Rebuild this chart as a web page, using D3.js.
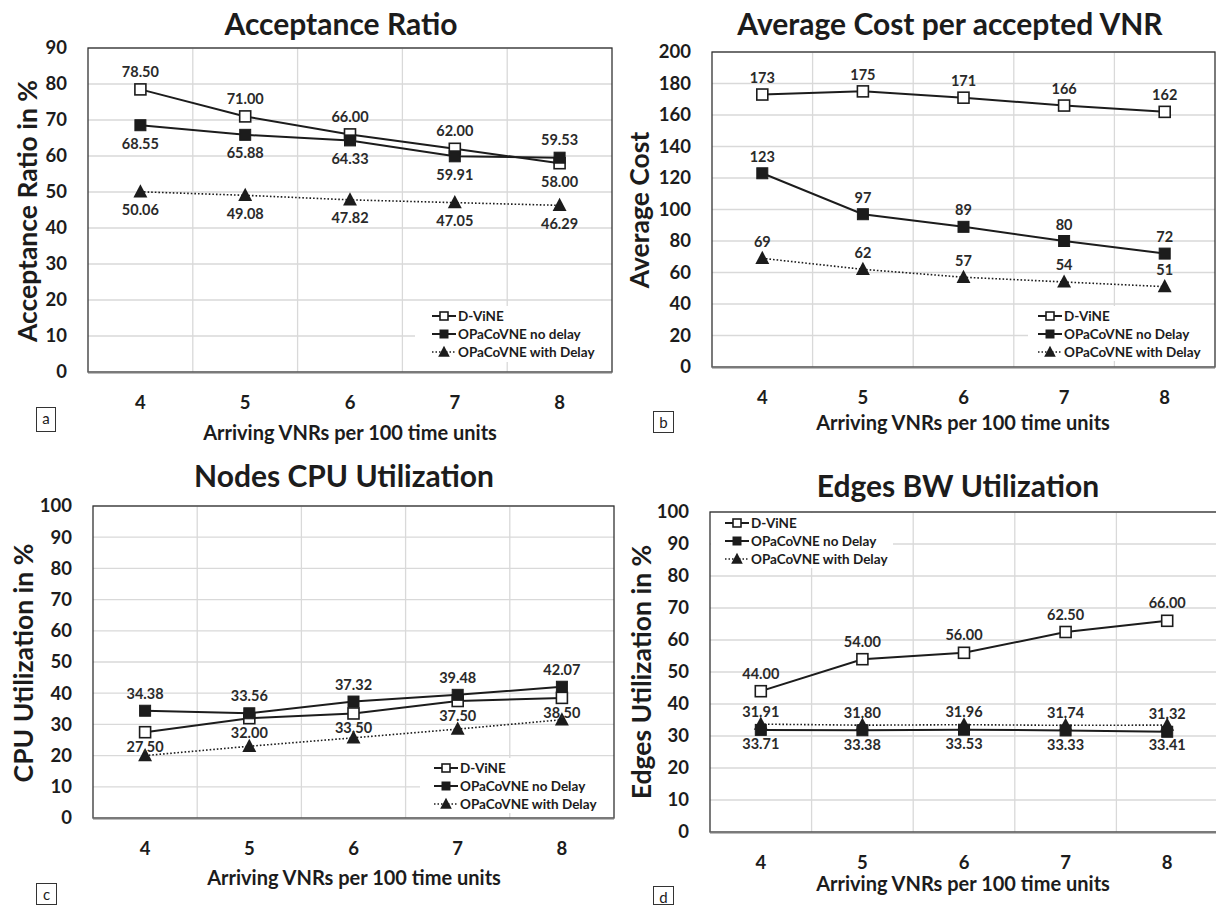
<!DOCTYPE html>
<html>
<head>
<meta charset="utf-8">
<script src="https://cdn.jsdelivr.net/npm/d3@7"></script>
<style>
  html, body { margin: 0; padding: 0; background: #fff; }
  svg { display: block; font-family: Lato, "Open Sans", "Noto Sans", sans-serif; }
</style>
</head>
<body>
<svg id="chart" width="1216" height="905"></svg>
<script>
// ---------------- DATA ----------------
const categories = [4, 5, 6, 7, 8];
const seriesNames = ["D-ViNE", "OPaCoVNE no delay", "OPaCoVNE with Delay"];
const seriesNamesCap = ["D-ViNE", "OPaCoVNE no Delay", "OPaCoVNE with Delay"];

// (a) Acceptance Ratio
const accTicks = [0, 10, 20, 30, 40, 50, 60, 70, 80, 90];
const accDVine = [78.50, 71.00, 66.00, 62.00, 58.00];
const accNoDelay = [68.55, 65.88, 64.33, 59.91, 59.53];
const accWithDelay = [50.06, 49.08, 47.82, 47.05, 46.29];

// (b) Average Cost per accepted VNR
const costTicks = [0, 20, 40, 60, 80, 100, 120, 140, 160, 180, 200];
const costDVine = [173, 175, 171, 166, 162];
const costNoDelay = [123, 97, 89, 80, 72];
const costWithDelay = [69, 62, 57, 54, 51];

// (c) Nodes CPU Utilization
const cpuTicks = [0, 10, 20, 30, 40, 50, 60, 70, 80, 90, 100];
const cpuDVine = [27.50, 32.00, 33.50, 37.50, 38.50];
const cpuNoDelay = [34.38, 33.56, 37.32, 39.48, 42.07];
const cpuWithDelay = [20.0, 23.0, 25.7, 28.5, 31.5];

// (d) Edges BW Utilization
const bwTicks = [0, 10, 20, 30, 40, 50, 60, 70, 80, 90, 100];
const bwDVine = [44.00, 54.00, 56.00, 62.50, 66.00];
const bwNoDelay = [31.91, 31.80, 31.96, 31.74, 31.32];
const bwWithDelay = [33.71, 33.38, 33.53, 33.33, 33.41];

// ---------------- PANELS ----------------
const panels = [
  {
    title: "Acceptance Ratio", yTitle: "Acceptance Ratio in %", letter: "a",
    ticks: accTicks, series: [accDVine, accNoDelay, accWithDelay], names: seriesNames,
    fmt: d3.format(".2f"),
    labelSide: [[-1,-1,-1,-1,1],[1,1,1,1,-1],[1,1,1,1,1]],
    offA: 18, offB: 18,
    box: {l: 88, r: 612, t: 48, b: 372},
    titleXY: [341, 23], yTitleXY: [27, 211], xTitleXY: [350, 432],
    letter: "a", letterBox: [36, 407, 19, 24],
    legend: {x: 415, y: 306, w: 197, h: 56, lx: 432}
  },
  {
    title: "Average Cost per accepted VNR", yTitle: "Average Cost", letter: "b",
    ticks: costTicks, series: [costDVine, costNoDelay, costWithDelay], names: seriesNamesCap,
    fmt: d3.format("d"),
    labelSide: [[-1,-1,-1,-1,-1],[-1,-1,-1,-1,-1],[-1,-1,-1,-1,-1]],
    offA: 17, offB: 17,
    box: {l: 712, r: 1215, t: 52, b: 367},
    titleXY: [950, 23], yTitleXY: [639, 210], xTitleXY: [963, 422],
    letterBox: [653, 411, 20, 21],
    legend: {x: 1028, y: 306, w: 187, h: 55, lx: 1038}
  },
  {
    title: "Nodes CPU Utilization", yTitle: "CPU Utilization in %", letter: "c",
    ticks: cpuTicks, series: [cpuDVine, cpuNoDelay, cpuWithDelay], names: seriesNamesCap,
    fmt: d3.format(".2f"),
    labelSide: [[1,1,1,1,1],[-1,-1,-1,-1,-1],[0,0,0,0,0]],
    offA: 17.5, offB: 14.5,
    box: {l: 93, r: 614, t: 506, b: 818},
    titleXY: [344, 475], yTitleXY: [23, 663], xTitleXY: [354, 877],
    letterBox: [36, 883, 20, 21],
    legend: {x: 420, y: 758, w: 194, h: 55, lx: 434}
  },
  {
    title: "Edges BW Utilization", yTitle: "Edges Utilization in %", letter: "d",
    ticks: bwTicks, series: [bwDVine, bwNoDelay, bwWithDelay], names: seriesNamesCap,
    fmt: d3.format(".2f"),
    labelSide: [[-1,-1,-1,-1,-1],[-1,-1,-1,-1,-1],[1,1,1,1,1]],
    offA: 18, offB: 19,
    box: {l: 710, r: 1218, t: 512, b: 832},
    titleXY: [958, 485], yTitleXY: [641, 672], xTitleXY: [963, 883],
    letterBox: [653, 886, 20, 18],
    legend: {x: 711, y: 513, w: 182, h: 55, lx: 725}
  }
];

const INK = "#1c1c1c";
const svg = d3.select("#chart");

function drawMarker(g, type, x, y, s) {
  if (type === 0) {
    g.append("rect").attr("x", x - s/2).attr("y", y - s/2).attr("width", s).attr("height", s)
      .attr("fill", "#fff").attr("stroke", INK).attr("stroke-width", 1.6);
  } else if (type === 1) {
    g.append("rect").attr("x", x - s/2).attr("y", y - s/2).attr("width", s).attr("height", s)
      .attr("fill", INK).attr("stroke", INK).attr("stroke-width", 1);
  } else {
    const h = s * 1.05;
    g.append("path").attr("d", `M${x},${y - h*0.6}L${x + s*0.58},${y + h*0.45}L${x - s*0.58},${y + h*0.45}Z`)
      .attr("fill", INK);
  }
}

panels.forEach(p => {
  const g = svg.append("g");
  const x = d3.scaleBand().domain(categories).range([p.box.l, p.box.r]).padding(0);
  const yMax = p.ticks[p.ticks.length - 1];
  const y = d3.scaleLinear().domain([0, yMax]).range([p.box.b, p.box.t]);

  // horizontal gridlines
  g.append("g").selectAll("line").data(p.ticks.slice(1)).join("line")
    .attr("x1", p.box.l).attr("x2", p.box.r)
    .attr("y1", d => y(d)).attr("y2", d => y(d))
    .attr("stroke", "#d9d9d9").attr("stroke-width", 1.3);
  // vertical gridlines at category boundaries
  g.append("g").selectAll("line").data(categories.slice(1)).join("line")
    .attr("x1", d => x(d)).attr("x2", d => x(d))
    .attr("y1", p.box.t).attr("y2", p.box.b)
    .attr("stroke", "#d9d9d9").attr("stroke-width", 1.3);

  // legend background (hides gridlines)
  const L = p.legend;
  g.append("rect").attr("x", L.x).attr("y", L.y).attr("width", L.w).attr("height", L.h).attr("fill", "#fff");

  // plot border
  g.append("rect").attr("x", p.box.l).attr("y", p.box.t)
    .attr("width", p.box.r - p.box.l).attr("height", p.box.b - p.box.t)
    .attr("fill", "none").attr("stroke", "#333").attr("stroke-width", 1.3);
  g.append("line").attr("x1", p.box.l).attr("x2", p.box.r).attr("y1", p.box.b + 0.5).attr("y2", p.box.b + 0.5)
    .attr("stroke", "#7a7a7a").attr("stroke-width", 2.2);

  // y axis
  const ya = d3.axisLeft(y).tickValues(p.ticks).tickSize(0).tickPadding(21).tickFormat(d3.format("d"));
  const yg = g.append("g").attr("transform", `translate(${p.box.l},0)`).call(ya);
  yg.select(".domain").remove();
  yg.selectAll("text").attr("font-size", 18.5).attr("font-weight", "bold").attr("fill", INK)
    .attr("font-family", "Lato, sans-serif");

  // x axis
  const xa = d3.axisBottom(x).tickSize(0).tickPadding(24);
  const xg = g.append("g").attr("transform", `translate(0,${p.box.b})`).call(xa);
  xg.select(".domain").remove();
  xg.selectAll("text").attr("font-size", 18.5).attr("font-weight", "bold").attr("fill", INK)
    .attr("font-family", "Lato, sans-serif");

  // titles
  g.append("text").attr("x", p.titleXY[0]).attr("y", p.titleXY[1]).attr("text-anchor", "middle")
    .attr("dominant-baseline", "central").attr("font-size", 30).attr("font-weight", "bold")
    .attr("fill", INK).text(p.title);
  g.append("text").attr("transform", `translate(${p.yTitleXY[0]},${p.yTitleXY[1]}) rotate(-90)`)
    .attr("text-anchor", "middle").attr("dominant-baseline", "central")
    .attr("font-size", 26.5).attr("font-weight", "bold").attr("fill", INK).text(p.yTitle);
  g.append("text").attr("x", p.xTitleXY[0]).attr("y", p.xTitleXY[1]).attr("text-anchor", "middle")
    .attr("dominant-baseline", "central").attr("font-size", 20).attr("font-weight", "bold")
    .attr("fill", INK).text("Arriving VNRs per 100 time units");

  // letter box
  const lb = p.letterBox;
  g.append("rect").attr("x", lb[0] + 0.5).attr("y", lb[1] + 0.5).attr("width", lb[2]).attr("height", lb[3])
    .attr("fill", "#fff").attr("stroke", "#333").attr("stroke-width", 1);
  g.append("text").attr("x", lb[0] + lb[2] / 2 + 0.5).attr("y", lb[1] + 11).attr("text-anchor", "middle")
    .attr("dominant-baseline", "central").attr("font-size", 15).attr("fill", INK)
    .attr("font-family", "Lato, sans-serif").text(p.letter);

  // series lines
  const line = d3.line().x((d, i) => x(categories[i]) + x.bandwidth() / 2).y(d => y(d));
  p.series.forEach((vals, si) => {
    g.append("path").datum(vals).attr("d", line).attr("fill", "none")
      .attr("stroke", INK)
      .attr("stroke-width", si === 2 ? 1.6 : 2)
      .attr("stroke-dasharray", si === 2 ? "1.6,2" : null);
  });
  // markers
  p.series.forEach((vals, si) => {
    vals.forEach((v, i) => {
      drawMarker(g, si, x(categories[i]) + x.bandwidth() / 2, y(v), si === 2 ? 12 : 11);
    });
  });
  // data labels
  p.series.forEach((vals, si) => {
    vals.forEach((v, i) => {
      const side = p.labelSide[si][i];
      if (!side) return;
      const cx = x(categories[i]) + x.bandwidth() / 2;
      const cy = y(v) + (side < 0 ? -p.offA : p.offB);
      g.append("text").attr("x", cx).attr("y", cy).attr("text-anchor", "middle")
        .attr("dominant-baseline", "central").attr("font-size", 14.5).attr("font-weight", "bold")
        .attr("fill", "#2a2a2a").text(p.fmt(v));
    });
  });

  // legend
  const rowY = [L.y + 10, L.y + 28, L.y + 46];
  p.names.forEach((name, si) => {
    const ly = rowY[si];
    g.append("line").attr("x1", L.lx).attr("x2", L.lx + 24).attr("y1", ly).attr("y2", ly)
      .attr("stroke", INK).attr("stroke-width", si === 2 ? 1.5 : 2)
      .attr("stroke-dasharray", si === 2 ? "1.5,2" : null);
    drawMarker(g, si, L.lx + 12, ly, si === 2 ? 10 : 8);
    g.append("text").attr("x", L.lx + 26).attr("y", ly).attr("dominant-baseline", "central")
      .attr("font-size", 13.5).attr("font-weight", "bold").attr("fill", INK).text(name);
  });
});
</script>
</body>
</html>
